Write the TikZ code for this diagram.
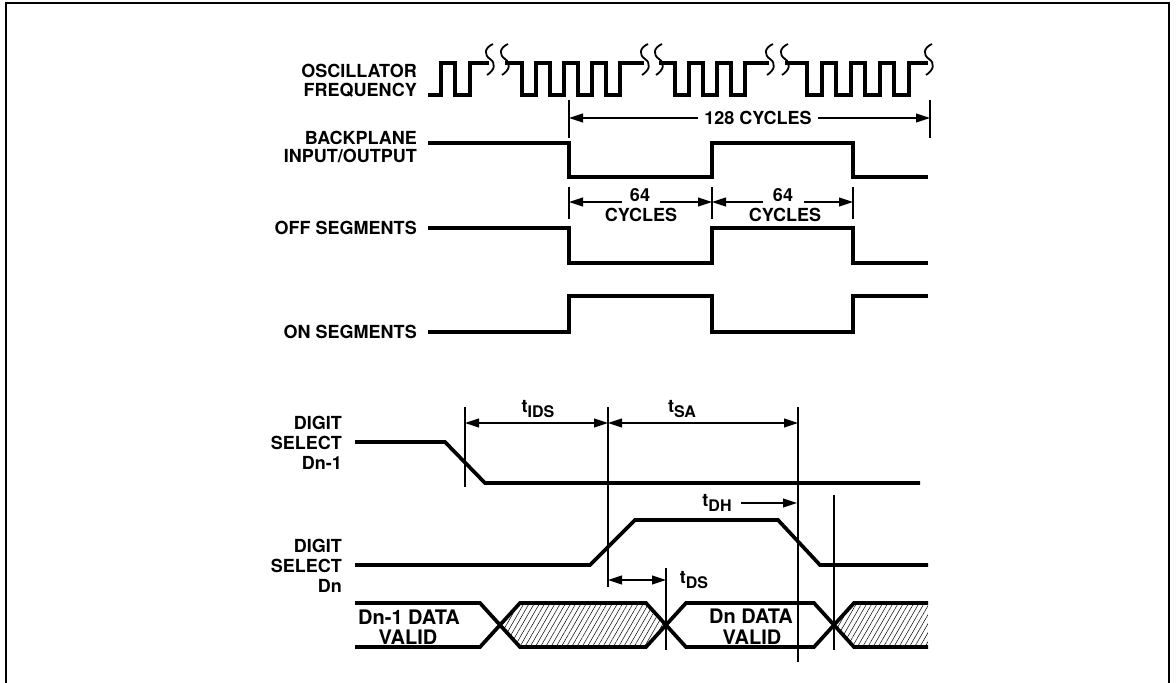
\documentclass[tikz,border=0pt]{standalone}
\usepackage{fontspec}
\setmainfont{TeX Gyre Heros}
\usetikzlibrary{arrows.meta,patterns.meta}
\begin{document}
\begin{tikzpicture}[x=1pt,y=-1pt,
  frame/.style={line width=1.4pt},
  wave/.style={line width=3.7pt, line join=miter, line cap=butt},
  sq/.style={line width=1.8pt},
  tick/.style={line width=1.1pt},
  arr/.style={line width=1.1pt, -{Triangle[length=14pt,width=9pt]}},
  dim/.style={line width=1.1pt, {Triangle[length=14pt,width=9pt]}-{Triangle[length=14pt,width=9pt]}},
  lbl/.style={font=\fontsize{18}{20}\selectfont\bfseries, inner sep=0pt, anchor=base east},
  ctxt/.style={font=\fontsize{18}{20}\selectfont\bfseries, inner sep=0pt, anchor=base},
  dtxt/.style={font=\fontsize{20}{22}\selectfont\bfseries, inner sep=0pt, anchor=base},
  hatch/.style={pattern={Lines[angle=60,distance=4.5pt,line width=0.5pt]}}]
\useasboundingbox (0,0) rectangle (1176,683);
% frame
\draw[frame] (6,683) -- (6,3) -- (1169,3) -- (1169,683);

% ---------- labels ----------
\node[lbl] (osc1) at (417,77.5) {OSCILLATOR};
\node[lbl] (osc2) at (417,96.5) {FREQUENCY};
\node[lbl] (bp1) at (417,144) {BACKPLANE};
\node[lbl] (bp2) at (417,162.5) {INPUT/OUTPUT};
\node[lbl] (off) at (417,234.5) {OFF SEGMENTS};
\node[lbl] (on) at (417,338.5) {ON SEGMENTS};
\node[lbl] (dsa1) at (342,429.5) {DIGIT};
\node[lbl] (dsa2) at (342,449.5) {SELECT};
\node[lbl] (dsa3) at (342,469.5) {Dn-1};
\node[lbl] (dsb1) at (342,552) {DIGIT};
\node[lbl] (dsb2) at (342,572) {SELECT};
\node[lbl] (dsb3) at (342,592) {Dn};

% ---------- oscillator ----------
\draw[wave] (428,95) -- (441,95) -- (441,63) -- (455,63) -- (455,95) -- (470,95) -- (470,63) -- (489,63);
\draw[wave] (505,63) -- (522,63) -- (522,95) -- (536,95) -- (536,63) -- (550,63) -- (550,95) -- (564,95) -- (564,63) -- (578,63) -- (578,95) -- (592,95) -- (592,63) -- (606,63) -- (606,95) -- (620,95) -- (620,63) -- (644,63);
\draw[wave] (659,63) -- (675,63) -- (675,95) -- (689,95) -- (689,63) -- (703,63) -- (703,95) -- (717,95) -- (717,63) -- (731,63) -- (731,95) -- (745,95) -- (745,63) -- (769,63);
\draw[wave] (785,63) -- (807,63) -- (807,95) -- (822,95) -- (822,63) -- (836,63) -- (836,95) -- (851,95) -- (851,63) -- (865,63) -- (865,95) -- (880,95) -- (880,63) -- (894,63) -- (894,95) -- (909,95) -- (909,63) -- (928,63);
\foreach \sx in {490,505,645,659,770,785,929}
  \draw[sq] (\sx+3,44) .. controls (\sx-6,48) and (\sx-6,55) .. (\sx,59) .. controls (\sx+6,63) and (\sx+5,70) .. (\sx-3,75);

% ---------- 128 cycles ----------
\coordinate (t128a) at (569,100); \coordinate (t128b) at (569,138);
\coordinate (t128c) at (930,100); \coordinate (t128d) at (930,138);
\draw[tick] (t128a) -- (t128b);
\draw[tick] (t128c) -- (t128d);
\node[font=\fontsize{18}{20}\selectfont\bfseries, inner ysep=0pt, inner xsep=6pt] (c128) at (758,118) {128 CYCLES};
\coordinate (a128l) at (569,118); \coordinate (a128r) at (930,118);
\draw[arr] (c128.west) -- (a128l);
\draw[arr] (c128.east) -- (a128r);

% ---------- backplane ----------
\draw[wave] (428,143) -- (569,143) -- (569,177) -- (712,177) -- (712,143) -- (853,143) -- (853,177) -- (928,177);

% ---------- 64 cycles ----------
\foreach \tx in {569,712,853} \draw[tick] (\tx,187) -- (\tx,219);
\node[ctxt] (s64a) at (640,201.5) {64};
\node[ctxt] (c64a) at (641,221) {CYCLES};
\node[ctxt] (s64b) at (783,201.5) {64};
\node[ctxt] (c64b) at (785,221) {CYCLES};
\coordinate (p1) at (569,202); \coordinate (p2) at (622,202);
\coordinate (p3) at (660,202); \coordinate (p4) at (712,202);
\coordinate (p5) at (712,202); \coordinate (p6) at (763,202);
\coordinate (p7) at (804,202); \coordinate (p8) at (853,202);
\draw[arr] (p2) -- (p1);
\draw[arr] (p3) -- (p4);
\draw[arr] (p6) -- (p5);
\draw[arr] (p7) -- (p8);

% ---------- segments ----------
\draw[wave] (428,228) -- (569,228) -- (569,263) -- (712,263) -- (712,228) -- (853,228) -- (853,263) -- (928,263);
\draw[wave] (428,332) -- (569,332) -- (569,296) -- (712,296) -- (712,332) -- (853,332) -- (853,296) -- (928,296);

% ---------- timing ticks ----------
\coordinate (T1a) at (465,407); \coordinate (T1b) at (465,487);
\coordinate (T2a) at (608,407); \coordinate (T2b) at (608,587);
\coordinate (T3a) at (798,407); \coordinate (T3b) at (798,662);
\coordinate (T4a) at (666,568); \coordinate (T4b) at (666,650);
\coordinate (T5a) at (834,495); \coordinate (T5b) at (834,650);
\draw[tick] (T1a) -- (T1b);
\draw[tick] (T2a) -- (T2b);
\draw[tick] (T3a) -- (T3b);
\draw[tick] (T4a) -- (T4b);
\draw[tick] (T5a) -- (T5b);

% tIDS, tSA
\coordinate (ids1) at (465,423); \coordinate (ids2) at (608,423); \coordinate (sa2) at (798,423);
\draw[dim] (ids1) -- (ids2);
\draw[dim] (ids2) -- (sa2);
\node[ctxt] (tids) at (538,412) {t\raisebox{-5pt}{\fontsize{16}{16}\selectfont IDS}};
\node[ctxt] (tsa) at (682,412) {t\raisebox{-5pt}{\fontsize{16}{16}\selectfont SA}};

% tDH
\node[ctxt] (tdh) at (717,506) {t\raisebox{-5pt}{\fontsize{16}{16}\selectfont DH}};
\coordinate (dh1) at (741,503); \coordinate (dh2) at (797,503);
\draw[arr] (dh1) -- (dh2);

% tDS
\coordinate (ds1) at (608,580); \coordinate (ds2) at (666,580);
\draw[dim] (ds1) -- (ds2);
\node[ctxt] (tds) at (694,583) {t\raisebox{-5pt}{\fontsize{16}{16}\selectfont DS}};

% ---------- digit select waves ----------
\draw[wave] (355,442) -- (445,442) -- (485,483) -- (920,483);
\draw[wave] (355,565) -- (590,565) -- (635,520) -- (778,520) -- (820,565) -- (928,565);

% ---------- data row ----------
\fill[hatch] (500,625) -- (520,603) -- (646,603) -- (666,625) -- (646,647) -- (520,647) -- cycle;
\fill[hatch] (834,625) -- (854,603) -- (928,603) -- (928,647) -- (854,647) -- cycle;
\draw[wave] (355,603) -- (480,603) -- (520,647) -- (646,647) -- (686,603) -- (814,603) -- (854,647) -- (928,647);
\draw[wave] (355,647) -- (480,647) -- (520,603) -- (646,603) -- (686,647) -- (814,647) -- (854,603) -- (928,603);
\node[dtxt] (d1a) at (409,624) {Dn-1 DATA};
\node[dtxt] (d1b) at (408,644) {VALID};
\node[dtxt] (d2a) at (751,623.5) {Dn DATA};
\node[dtxt] (d2b) at (752,644) {VALID};
\end{tikzpicture}
\end{document}
